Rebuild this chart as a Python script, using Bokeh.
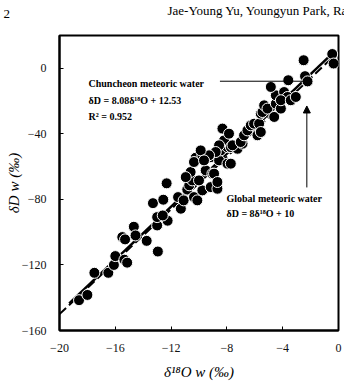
from bokeh.plotting import figure
from bokeh.models import Label, Arrow, NormalHead, FixedTicker, Range1d
from bokeh.embed import file_html
from bokeh.resources import INLINE

# Oxygen and hydrogen isotope ratios of Chuncheon waters (per mil)
d18o = [
    -18.6, -18.0, -17.5, -16.5, -16.1, -16.0, -15.35, -15.15, -15.5, -15.3,
    -14.67, -14.55, -13.75, -12.95, -13.0, -13.0, -13.3, -12.56, -12.25, -12.6,
    -12.32, -11.5, -11.3, -11.1, -10.84, -10.7, -10.36, -10.12, -9.76, -9.16,
    -8.68, -9.52, -9.04, -10.48, -10.6, -10.95, -10.0, -8.92, -8.68,
    -10.24, -10.36, -9.76, -9.16, -8.56, -8.44, -7.96, -8.2, -8.56, -7.96, -7.72,
    -8.32, -7.85, -7.72, -7.24, -8.8, -9.28, -9.88, -9.64, -7.6, -6.88, -7.01,
    -6.77, -6.53, -6.29, -6.05, -5.81, -5.69, -5.57, -5.57, -5.45, -5.33, -5.09,
    -4.61, -4.49, -4.13, -4.49, -4.85, -3.9, -3.65, -4.13, -3.42, -3.06, -3.6,
    -2.5, -2.4, -2.22, -0.45, -0.35,
]
dD = [
    -141.5, -138.3, -124.8, -124.8, -120.0, -114.6, -116.8, -118.6, -103.0, -104.4,
    -96.7, -102.0, -105.3, -111.8, -95.9, -90.8, -82.3, -80.2, -93.0, -89.8,
    -70.2, -78.6, -85.7, -80.6, -74.0, -71.4, -78.6, -80.6, -74.5, -72.5,
    -73.5, -62.3, -64.3, -68.4, -63.3, -66.4, -68.4, -64.3, -69.4,
    -54.6, -57.2, -53.1, -54.2, -56.2, -50.1, -48.1, -44.0, -47.0, -58.2, -58.2,
    -36.8, -39.9, -48.1, -49.1, -51.1, -53.1, -50.1, -56.2, -47.0, -46.0, -45.0,
    -40.9, -37.9, -34.8, -33.8, -40.9, -33.8, -38.9, -27.7, -26.7, -22.6, -24.6,
    -29.7, -21.6, -24.6, -16.5, -11.4, -14.5, -17.5, -19.5, -19.5, -17.5, -7.3,
    4.9, -4.8, -8.0, 8.7, 2.9,
]

# Local (Chuncheon) and global meteoric water lines
local_slope, local_intercept = 8.08, 12.53
global_slope, global_intercept = 8.0, 10.0
local_x = [-19.3, -0.3]
global_x = [-20.0, 0.0]

x_ticks = [-20, -16, -12, -8, -4, 0]
y_ticks = [-160, -120, -80, -40, 0]

SERIF = "Liberation Serif"

p = figure(width=344, height=383,
           x_range=Range1d(-20, 0), y_range=Range1d(-160, 20),
           output_backend="svg", toolbar_location=None,
           min_border_left=59, min_border_right=6,
           min_border_top=35, min_border_bottom=53)

p.background_fill_color = "white"
p.border_fill_color = "white"
p.outline_line_color = "black"
p.outline_line_width = 2
p.grid.visible = False

for ax, ticks in ((p.xaxis, x_ticks), (p.yaxis, y_ticks)):
    ax.ticker = FixedTicker(ticks=ticks)
    ax.axis_line_color = "black"
    ax.axis_line_width = 2
    ax.major_tick_in = 4
    ax.major_tick_out = 0
    ax.major_tick_line_color = "black"
    ax.minor_tick_line_color = None
    ax.major_label_text_font = SERIF
    ax.major_label_text_font_size = "12px"
    ax.major_label_text_color = "#111111"
    ax.axis_label_text_font = SERIF
    ax.axis_label_text_font_style = "italic"
    ax.axis_label_text_color = "black"
    ax.axis_label_text_font_size = "15px"

p.xaxis.major_label_standoff = 13
p.xaxis.axis_label = "δ¹⁸O w (‰)"
p.xaxis.axis_label_standoff = 9

p.yaxis.major_label_standoff = 13
p.yaxis.axis_label = "δD w (‰)"
p.yaxis.axis_label_standoff = -3

# Meteoric water lines
p.line(global_x, [global_slope * x + global_intercept for x in global_x],
       line_color="black", line_width=2, line_dash="9 4")
p.line(local_x, [local_slope * x + local_intercept for x in local_x],
       line_color="black", line_width=2.5)

# Samples
p.scatter(d18o, dD, size=11, fill_color="black", line_color="white", line_width=1)


def label(x, y, text, size="10px", style="bold", **kw):
    return Label(x=x, y=y, text=text, text_font=SERIF,
                 text_font_size=size, text_font_style=style,
                 text_color="black", **kw)


# Local line annotation
p.add_layout(label(-17.92, -9.4, "Chuncheon meteoric water", text_baseline="middle"))
p.add_layout(label(-17.92, -19.6, "δD = 8.08δ¹⁸O + 12.53", text_baseline="middle"))
p.add_layout(label(-17.92, -29.4, "R² = 0.952", text_baseline="middle"))
p.line([-8.5, -2.3], [-7.9, -7.9], line_color="black", line_width=1)

# Global line annotation
p.add_layout(label(-8.03, -79.4, "Global meteoric water", text_baseline="middle"))
p.add_layout(label(-8.03, -88.6, "δD = 8δ¹⁸O + 10", text_baseline="middle"))
p.add_layout(Arrow(x_start=-2.27, y_start=-72.7, x_end=-2.27, y_end=-23.0,
                   line_color="black", line_width=1,
                   end=NormalHead(size=7, fill_color="black", line_color="black")))

# Running page header, placed in the top border
p.add_layout(label(3, 17, "2", size="13px", style="normal",
                   x_units="canvas", y_units="canvas"), "above")
p.add_layout(label(167, 17, "Jae-Young Yu, Youngyun Park, Ra", size="13px",
                   style="normal", x_units="canvas", y_units="canvas"), "above")

open("out.html", "w").write(file_html(p, INLINE))
